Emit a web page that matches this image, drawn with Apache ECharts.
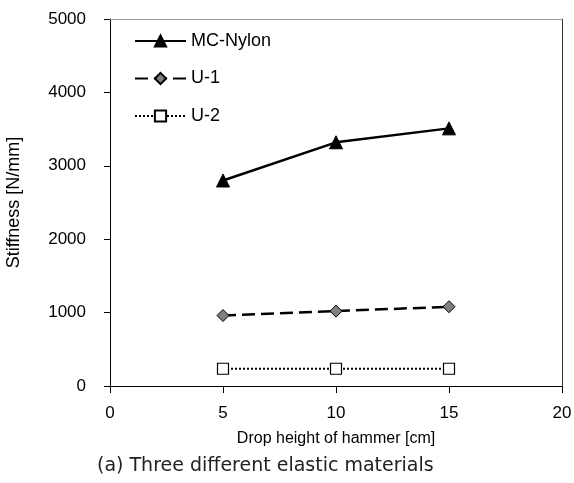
<!DOCTYPE html>
<html>
<head>
<meta charset="utf-8">
<script src="https://cdn.jsdelivr.net/npm/echarts@6/dist/echarts.min.js"></script>
<style>
  html, body { margin: 0; padding: 0; background: #fff; }
  #chart { width: 574px; height: 483px; }
</style>
</head>
<body>
<div id="chart"></div>
<script>
// Drop height of hammer [cm] and measured stiffness [N/mm]
const dropHeights = [5, 10, 15];
const mcNylon = [2800, 3320, 3510];
const u1 = [960, 1020, 1080];
const u2 = [235, 235, 235];

const seriesNames = ['MC-Nylon', 'U-1', 'U-2'];

// Axis ranges and tick steps
const xMin = 0, xMax = 20, xStep = 5;
const yMin = 0, yMax = 5000, yStep = 1000;

const xTitle = 'Drop height of hammer [cm]';
const yTitle = 'Stiffness [N/mm]';
const caption = '(a) Three different elastic materials';

const FONT = '"Liberation Sans", Arial, sans-serif';

function pairs(ys) {
  return dropHeights.map((x, i) => [x, ys[i]]);
}

const chart = echarts.init(document.getElementById('chart'), null, { renderer: 'canvas' });

chart.setOption({
  animation: false,
  backgroundColor: '#fff',
  grid: { left: 110, top: 19, right: 12, bottom: 97, containLabel: false, outerBoundsMode: 'none' },
  legend: {
    orient: 'vertical',
    left: 129,
    top: 27,
    itemWidth: 51,
    itemHeight: 14,
    itemGap: 19.5,
    textStyle: { fontFamily: FONT, fontSize: 18, color: '#000' },
    data: seriesNames
  },
  xAxis: [{
    type: 'value',
    min: xMin, max: xMax, interval: xStep,
    position: 'bottom',
    name: xTitle,
    nameLocation: 'middle',
    nameGap: 45,
    nameTextStyle: { fontFamily: FONT, fontSize: 16, color: '#000' },
    axisLine: { show: true, onZero: false, lineStyle: { color: '#000', width: 1 } },
    axisTick: { show: true, inside: false, length: 7, lineStyle: { color: '#000' } },
    axisLabel: { margin: 19, fontFamily: FONT, fontSize: 17, color: '#000' },
    splitLine: { show: false }
  }, {
    type: 'value',
    min: xMin, max: xMax,
    position: 'top',
    axisLine: { show: true, onZero: false, lineStyle: { color: '#999', width: 1 } },
    axisTick: { show: false },
    axisLabel: { show: false },
    splitLine: { show: false }
  }],
  yAxis: [{
    type: 'value',
    min: yMin, max: yMax, interval: yStep,
    position: 'left',
    name: yTitle,
    nameLocation: 'middle',
    nameGap: 87,
    nameTextStyle: { fontFamily: FONT, fontSize: 18, color: '#000' },
    axisLine: { show: true, onZero: false, lineStyle: { color: '#000', width: 1 } },
    axisTick: { show: true, inside: false, length: 6, lineStyle: { color: '#000' } },
    axisLabel: { margin: 24, fontFamily: FONT, fontSize: 17, color: '#000', formatter: (v) => String(v) },
    splitLine: { show: false }
  }, {
    type: 'value',
    min: yMin, max: yMax,
    position: 'right',
    axisLine: { show: true, onZero: false, lineStyle: { color: '#333', width: 1 } },
    axisTick: { show: false },
    axisLabel: { show: false },
    splitLine: { show: false }
  }],
  series: [{
    name: seriesNames[0],
    type: 'line',
    data: pairs(mcNylon),
    symbol: 'triangle',
    symbolSize: 13,
    itemStyle: { color: '#000', borderColor: '#000', borderWidth: 1 },
    lineStyle: { color: '#000', width: 2.5, type: 'solid' }
  }, {
    name: seriesNames[1],
    type: 'line',
    data: pairs(u1),
    symbol: 'diamond',
    symbolSize: 12,
    itemStyle: { color: '#808080', borderColor: '#000', borderWidth: 1 },
    lineStyle: { color: '#000', width: 2.5, type: [13, 6] }
  }, {
    name: seriesNames[2],
    type: 'line',
    data: pairs(u2),
    symbol: 'rect',
    symbolSize: 11,
    itemStyle: { color: '#fff', borderColor: '#000', borderWidth: 1.2 },
    lineStyle: { color: '#000', width: 2, type: [2, 2] }
  }],
  graphic: [{
    type: 'text',
    left: 97,
    top: 457,
    style: {
      text: caption,
      fontFamily: '"DejaVu Sans", sans-serif',
      fontSize: 19,
      fill: '#222'
    }
  }]
});
</script>
</body>
</html>
